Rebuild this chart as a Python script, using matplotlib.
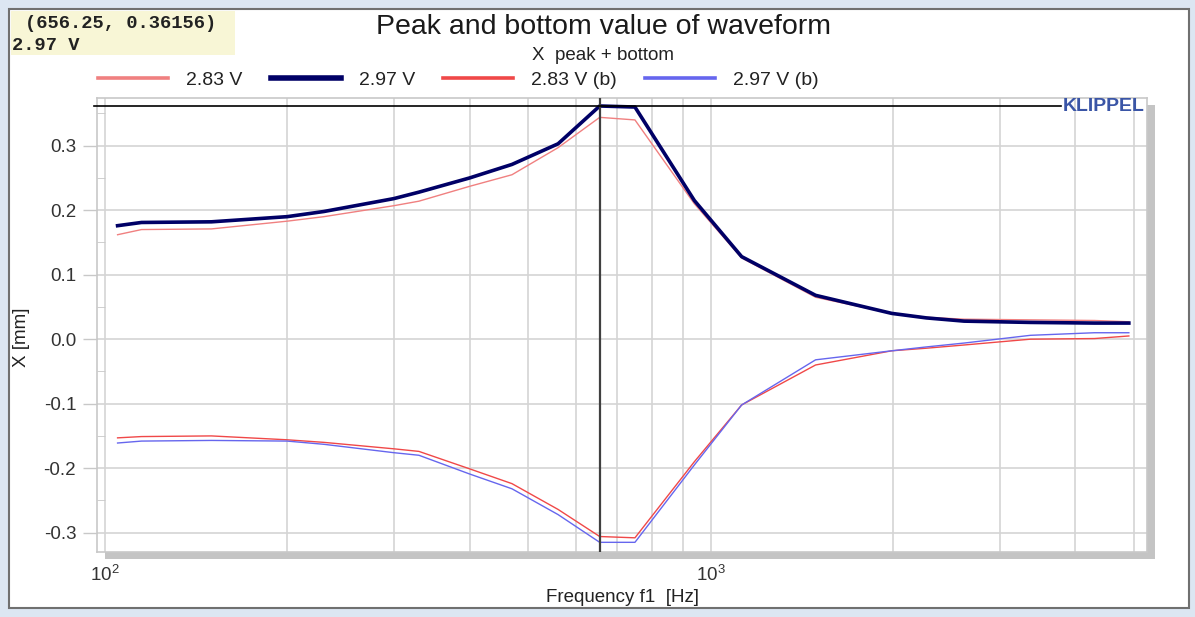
import matplotlib
matplotlib.use("Agg")
import matplotlib.pyplot as plt
from matplotlib.patches import Rectangle
from matplotlib.ticker import FixedLocator, FormatStrFormatter, MultipleLocator, NullFormatter

plt.rcParams['font.family'] = ['Liberation Sans', 'DejaVu Sans']

# frequency points (Hz)
freq = [105, 115, 150, 200, 230, 300, 330, 400, 470, 560, 656, 750,
        940, 1125, 1490, 1990, 2270, 2620, 3370, 4300, 4900]

# peak values (mm)
peak_283 = [0.162, 0.170, 0.171, 0.183, 0.190, 0.207, 0.214, 0.237, 0.255, 0.297, 0.344, 0.340,
            0.210, 0.126, 0.065, 0.040, 0.034, 0.031, 0.030, 0.029, 0.027]
peak_297 = [0.176, 0.181, 0.182, 0.190, 0.198, 0.218, 0.228, 0.250, 0.271, 0.303, 0.3616, 0.360,
            0.215, 0.128, 0.068, 0.040, 0.033, 0.028, 0.026, 0.025, 0.025]

# bottom values (mm)
bottom_283 = [-0.153, -0.151, -0.150, -0.156, -0.160, -0.170, -0.174, -0.201, -0.224, -0.264, -0.306, -0.308,
              -0.190, -0.102, -0.040, -0.018, -0.014, -0.009, 0.000, 0.001, 0.005]
bottom_297 = [-0.161, -0.158, -0.157, -0.158, -0.163, -0.176, -0.180, -0.209, -0.232, -0.272, -0.315, -0.315,
              -0.195, -0.102, -0.032, -0.018, -0.012, -0.006, 0.006, 0.010, 0.010]

cursor_x = 656.25
cursor_y = 0.36156

fig = plt.figure(figsize=(11.95, 6.17), dpi=100)

# window chrome
fig.add_artist(Rectangle((0, 0), 1, 1, transform=fig.transFigure, facecolor="#dce6f2", edgecolor="none", zorder=-10))
fig.add_artist(Rectangle((9/1195, 9/617), 1180/1195, 599/617, transform=fig.transFigure,
                         facecolor="white", edgecolor="#707070", linewidth=1.5, zorder=-9))

# tooltip box
fig.add_artist(Rectangle((11/1195, 1 - 55/617), 224/1195, 44/617, transform=fig.transFigure,
                         facecolor="#f8f6d6", edgecolor="none", zorder=-8))
fig.text(25/1195, 1 - 24/617, "(656.25, 0.36156)", family="Liberation Mono", weight="bold",
         fontsize=13.5, color="#222222", va="center")
fig.text(12/1195, 1 - 45/617, "2.97 V", family="Liberation Mono", weight="bold",
         fontsize=13.5, color="#222222", va="center")

# plot area and its shadow
left, right, top, bottom = 97, 1147, 98, 552
fig.add_artist(Rectangle(((left + 8)/1195, 1 - (bottom + 7)/617), (right - left)/1195, (bottom - top)/617,
                         transform=fig.transFigure, facecolor="#c4c4c4", edgecolor="none", zorder=-5))
ax = fig.add_axes([left/1195, 1 - bottom/617, (right - left)/1195, (bottom - top)/617])
ax.set_facecolor("white")

ax.plot(freq, peak_283, color="#f08080", lw=1.0, label="2.83 V")
ax.plot(freq, peak_297, color="#000066", lw=2.6, label="2.97 V")
ax.plot(freq, bottom_283, color="#f04848", lw=1.0, label="2.83 V (b)")
ax.plot(freq, bottom_297, color="#6666ee", lw=1.0, label="2.97 V (b)")

# cursor lines
ax.axvline(cursor_x, color="#404040", lw=1.6, zorder=5)
ax.plot([96, 3780], [cursor_y, cursor_y], color="black", lw=1.2, zorder=5, clip_on=False)

ax.set_xscale("log")
ax.set_xlim(97.1, 5250)
ax.set_ylim(-0.330, 0.374)

ax.xaxis.set_major_locator(FixedLocator([100, 1000]))
ax.xaxis.set_minor_locator(FixedLocator([200, 300, 400, 500, 600, 700, 800, 900,
                                         2000, 3000, 4000, 5000]))
ax.xaxis.set_minor_formatter(NullFormatter())
ax.yaxis.set_major_locator(MultipleLocator(0.1))
ax.yaxis.set_minor_locator(MultipleLocator(0.05))
ax.yaxis.set_major_formatter(FormatStrFormatter("%.1f"))

ax.grid(True, which="major", color="#d4d4d4", lw=1.2)
ax.grid(True, which="minor", axis="x", color="#d4d4d4", lw=1.2)
ax.set_axisbelow(True)

ax.tick_params(axis="y", which="major", length=10, width=1, color="#c8c8c8",
               labelsize=13.5, labelcolor="#333333", pad=5)
ax.tick_params(axis="y", which="minor", direction="in", length=6, color="#c8c8c8")
ax.tick_params(axis="x", which="both", length=0, labelsize=13.5, labelcolor="#333333", pad=9)
for s in ax.spines.values():
    s.set_color("#c8c8c8")
    s.set_linewidth(1.2)

ax.text(0.9975, cursor_y, "KLIPPEL", transform=ax.get_yaxis_transform(), ha="right", va="center",
        fontsize=14, weight="bold", color="#3a55a6")

# titles and axis labels
fig.text(604/1195, 1 - 27/617, "Peak and bottom value of waveform", ha="center", va="center",
         fontsize=20.5, color="#1a1a1a")
fig.text(603/1195, 1 - 55/617, "X  peak + bottom", ha="center", va="center",
         fontsize=13.5, color="#222222")
fig.text(623/1195, 1 - 597/617, "Frequency f1  [Hz]", ha="center", va="center",
         fontsize=13.5, color="#222222")
fig.text(22/1195, 1 - 337/617, "X [mm]", ha="center", va="center", rotation=90,
         fontsize=13.5, color="#222222")

leg = ax.legend(ncol=4, loc="center left", bbox_to_anchor=(98/1195, 1 - 80/617),
                bbox_transform=fig.transFigure, frameon=False, fontsize=14,
                handlelength=3.6, handletextpad=0.93, columnspacing=1.45,
                borderpad=0, borderaxespad=0)
for h, w in zip(leg.legend_handles, [2.6, 4.0, 2.6, 2.6]):
    h.set_linewidth(w)
for t in leg.get_texts():
    t.set_color("#222222")

fig.savefig("out.png", dpi=100)
